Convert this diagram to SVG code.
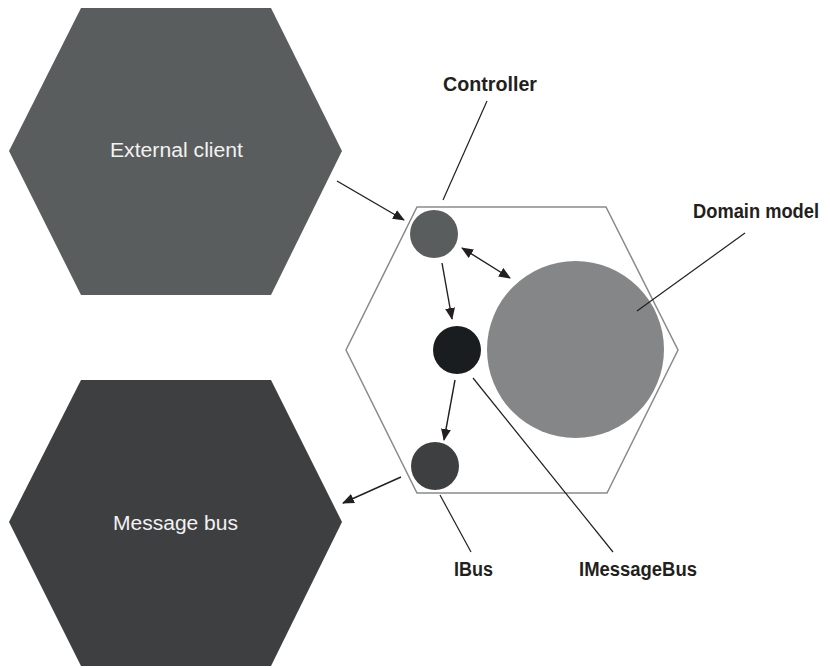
<svg xmlns="http://www.w3.org/2000/svg" width="830" height="668" viewBox="0 0 830 668">
<style>
.hexlabel{font-family:"Liberation Sans",Arial,sans-serif;font-size:20px;fill:#f2f2f2;text-anchor:middle}
.lbl{font-family:"Liberation Sans",Arial,sans-serif;font-size:20px;font-weight:bold;fill:#231f20}
.conn{stroke:#231f20;stroke-width:1.4;fill:none}
.lead{stroke:#231f20;stroke-width:1.2;fill:none}
</style>
<defs>
<marker id="ah" viewBox="0 0 12 10" refX="11" refY="5" markerWidth="12" markerHeight="10" markerUnits="userSpaceOnUse" orient="auto-start-reverse">
<path d="M0,0 L12,5 L0,10 Z" fill="#231f20"/>
</marker>
</defs>
<rect width="830" height="668" fill="#ffffff"/>
<g id="external-client">
<polygon points="81,8 271,8 342,151 271,295 81,295 9,151" fill="#5a5d5e"/>
<text class="hexlabel" x="176.5" y="157" textLength="133" lengthAdjust="spacingAndGlyphs">External client</text>
</g>
<g id="message-bus">
<polygon points="81,380 271,380 342,522 271,666 81,666 9,522" fill="#3e3f41"/>
<text class="hexlabel" x="175.5" y="530" textLength="125" lengthAdjust="spacingAndGlyphs">Message bus</text>
</g>
<g id="application">
<polygon points="417,207 606,207 678,350 607,493 417,493 346,350" fill="none" stroke="#8a8a8a" stroke-width="1.5"/>
</g>
<g id="domain-model">
<circle cx="575.5" cy="349.5" r="88.5" fill="#858687"/>
<text class="lbl" x="693" y="218" textLength="126" lengthAdjust="spacingAndGlyphs">Domain model</text>
</g>
<g id="controller">
<circle cx="434" cy="234" r="24" fill="#5a5d5e"/>
<text class="lbl" x="443" y="91" textLength="94" lengthAdjust="spacingAndGlyphs">Controller</text>
</g>
<g id="imessagebus">
<circle cx="457" cy="350" r="24" fill="#1a1d1f"/>
<text class="lbl" x="579" y="576" textLength="118" lengthAdjust="spacingAndGlyphs">IMessageBus</text>
</g>
<g id="ibus">
<circle cx="435" cy="466" r="24" fill="#3e3f41"/>
<text class="lbl" x="454" y="576" textLength="39" lengthAdjust="spacingAndGlyphs">IBus</text>
</g>
<g id="connectors">
<line class="conn" x1="337" y1="181" x2="404" y2="220" marker-end="url(#ah)"/>
<line class="conn" x1="462" y1="248" x2="510" y2="278" marker-start="url(#ah)" marker-end="url(#ah)"/>
<line class="conn" x1="442" y1="263" x2="452" y2="319" marker-end="url(#ah)"/>
<line class="conn" x1="455" y1="380" x2="444" y2="440" marker-end="url(#ah)"/>
<line class="conn" x1="401" y1="477" x2="343" y2="503" marker-end="url(#ah)"/>
<line class="lead" x1="487" y1="101" x2="443" y2="200"/>
<line class="lead" x1="745" y1="233" x2="637" y2="311"/>
<line class="lead" x1="473" y1="378" x2="613" y2="552"/>
<line class="lead" x1="440" y1="495" x2="471" y2="552"/>
</g>
</svg>
